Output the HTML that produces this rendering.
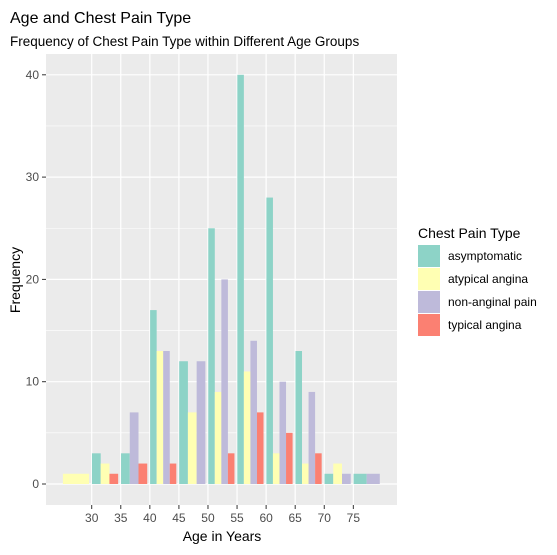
<!DOCTYPE html>
<html><head><meta charset="utf-8"><style>
body{margin:0;background:#fff;font-family:"Liberation Sans",Arial,sans-serif}
</style></head><body>
<svg width="557" height="550" xmlns="http://www.w3.org/2000/svg" style="font-family:'Liberation Sans',Arial,sans-serif">
<text x="10" y="23" font-size="16" fill="#000">Age and Chest Pain Type</text>
<text x="10" y="46" font-size="13.5" fill="#000">Frequency of Chest Pain Type within Different Age Groups</text>
<rect x="46" y="54" width="351" height="451" fill="#EBEBEB"/>
<g id="grid"></g><g id="bars"></g><g id="axes"></g>
<text x="222" y="541" font-size="14" text-anchor="middle">Age in Years</text>
<text transform="translate(20,280) rotate(-90)" font-size="14" text-anchor="middle">Frequency</text>
<g>
<text x="418" y="238" font-size="14">Chest Pain Type</text>
<g id="legend"></g>
</g>
</svg>
<script>
const categories=["asymptomatic","atypical angina","non-anginal pain","typical angina"];
const colors=["#8DD3C7","#FFFFB3","#BEBADA","#FB8072"];
const asymptomatic=[0,3,3,17,12,25,40,28,13,1,1];
const atypical=[1,2,0,13,7,9,11,3,2,2,0];
const nonanginal=[0,0,7,13,12,20,14,10,9,1,1];
const typical=[0,1,2,2,0,3,7,5,3,0,0];
const xTicks=[30,35,40,45,50,55,60,65,70,75];
const yTicks=[0,10,20,30,40];
const series=[asymptomatic,atypical,nonanginal,typical];
const NS="http://www.w3.org/2000/svg";
function yS(v){return 484-v*10.23;}
function xS(a){return 91.7+(a-30)*5.814;}
function binC(i){return 76+i*29.07;}
function mk(tag,attrs,parent){const e=document.createElementNS(NS,tag);for(const k in attrs)e.setAttribute(k,attrs[k]);parent.appendChild(e);return e;}
const grid=document.getElementById('grid'),bars=document.getElementById('bars'),axes=document.getElementById('axes'),legend=document.getElementById('legend');
for(let v=5;v<=45;v+=10){if(yS(v)>54){const l=mk('line',{x1:46,x2:397,y1:yS(v),y2:yS(v),stroke:'#fff','stroke-width':0.6},grid);}}
yTicks.forEach(v=>{const l=mk('line',{x1:46,x2:397,y1:yS(v),y2:yS(v),stroke:'#fff','stroke-width':1.2},grid);

const t=mk('line',{x1:42,x2:46,y1:yS(v),y2:yS(v),stroke:'#333'},axes);
const tx=mk('text',{x:39,y:yS(v)+4,'font-size':12,fill:'#4D4D4D','text-anchor':'end'},axes);tx.textContent=v;
});
xTicks.forEach(a=>{const l=mk('line',{x1:xS(a),x2:xS(a),y1:54,y2:505,stroke:'#fff','stroke-width':1.2},grid);

const t=mk('line',{x1:xS(a),x2:xS(a),y1:505,y2:509,stroke:'#333'},axes);
const tx=mk('text',{x:xS(a),y:522,'font-size':12,fill:'#4D4D4D','text-anchor':'middle'},axes);tx.textContent=a;
});
const bw=26.2;
for(let i=0;i<asymptomatic.length;i++){
  const present=[];series.forEach((s,k)=>{if(s[i]>0)present.push(k);});
  const w=bw/present.length;const left=binC(i)-bw/2;
  present.forEach((k,j)=>{const v=series[k][i];
    const r=mk('rect',{x:left+j*w,y:yS(v),width:w,height:yS(0)-yS(v),fill:colors[k]},bars);
    
    });
}
categories.forEach((c,k)=>{const y=245+k*23;
  const r=mk('rect',{x:418,y:y,width:22,height:22,fill:colors[k]},legend);
  
  const t=mk('text',{x:448,y:y+15,'font-size':12,fill:'#000'},legend);t.textContent=c;
  });
</script>
</body></html>
